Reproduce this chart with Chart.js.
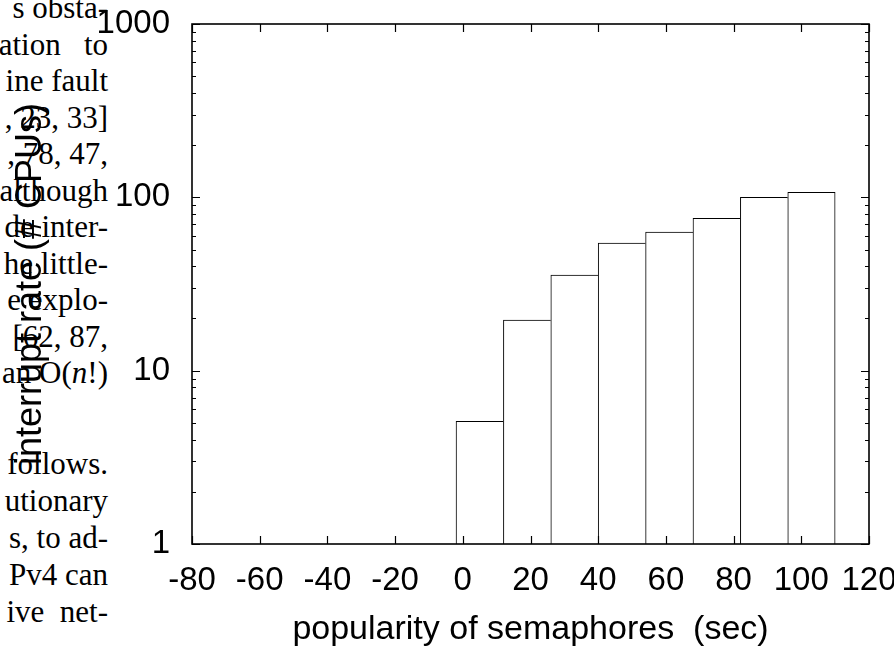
<!DOCTYPE html>
<html>
<head>
<meta charset="utf-8">
<script src="https://cdn.jsdelivr.net/npm/chart.js@4/dist/chart.umd.min.js"></script>
<style>
html, body { margin: 0; padding: 0; background: #fff; overflow: hidden; }
#wrap { position: relative; width: 894px; height: 651px; overflow: hidden; }
#bg { position: absolute; left: 0; top: 0; width: 894px; height: 651px;
      font-family: "Liberation Serif", "DejaVu Serif", serif; font-size: 31px; color: #000; }
#bg div { position: absolute; right: 786px; white-space: nowrap; line-height: 37px; }
#c { position: absolute; left: 0; top: 0; }
</style>
</head>
<body>
<div id="wrap">
  <div id="bg"></div>
  <canvas id="c" width="894" height="651"></canvas>
</div>
<script>
// ---- data ----
const binCenters = [5, 19, 33, 47, 61, 75, 89, 103];          // popularity of semaphores (sec)
const rates      = [5.1, 19.6, 35.6, 54.5, 63, 75.6, 100, 107]; // interrupt rate (# CPUs)
const xTickValues = [-80, -60, -40, -20, 0, 20, 40, 60, 80, 100, 120];
const yTickValues = [1, 10, 100, 1000];
const xTitle = 'popularity of semaphores  (sec)';
const yTitle = 'interrupt rate (# CPUs)';
// fragment of the paper text visible behind the figure (left margin)
const paperLinesTop = ['s obsta-', 'ation&nbsp;&nbsp; to', 'ine fault', ', 23, 33]', ', 78, 47,', 'although',
  'de inter-', 'he little-', 'e explo-', '[62, 87,', 'an O(<i>n</i>!)'];
const paperLinesBottom = ['follows.', 'utionary', 's, to ad-', 'Pv4 can', 'ive&nbsp; net-'];

// ---- background paper text ----
const bg = document.getElementById('bg');
function addLine(html, baseline) {
  const d = document.createElement('div');
  d.innerHTML = html;
  d.style.top = (baseline - 29) + 'px';
  bg.appendChild(d);
}
paperLinesTop.forEach((t, k) => addLine(t, 18 + 36.5 * k));
paperLinesBottom.forEach((t, k) => addLine(t, 474 + 37 * k));

// ---- chart ----
const FONT = '"Liberation Sans", Arial, Helvetica, sans-serif';

const ticksPlugin = {
  id: 'gnuplotFrame',
  afterDatasetsDraw(chart) {
    const {ctx, chartArea: a} = chart;
    const xs = chart.scales.x, ys = chart.scales.y;
    ctx.save();
    ctx.strokeStyle = '#000';
    ctx.lineWidth = 1.2;
    const major = 8, minor = 4;
    ctx.beginPath();
    xTickValues.forEach(v => {
      const px = Math.round(xs.getPixelForValue(v)) + 0.5;
      ctx.moveTo(px, a.bottom); ctx.lineTo(px, a.bottom - major);
      ctx.moveTo(px, a.top); ctx.lineTo(px, a.top + major);
    });
    yTickValues.forEach((v, i) => {
      const py = Math.round(ys.getPixelForValue(v)) + 0.5;
      ctx.moveTo(a.left, py); ctx.lineTo(a.left + major, py);
      ctx.moveTo(a.right, py); ctx.lineTo(a.right - major, py);
      if (i < yTickValues.length - 1) {
        for (let m = 2; m <= 9; m++) {
          const q = Math.round(ys.getPixelForValue(v * m)) + 0.5;
          ctx.moveTo(a.left, q); ctx.lineTo(a.left + minor, q);
          ctx.moveTo(a.right, q); ctx.lineTo(a.right - minor, q);
        }
      }
    });
    ctx.stroke();
    ctx.lineWidth = 1.6;
    ctx.strokeRect(a.left, a.top, a.right - a.left, a.bottom - a.top);
    ctx.restore();
  }
};

new Chart(document.getElementById('c'), {
  type: 'bar',
  data: {
    datasets: [{
      data: binCenters.map((x, i) => ({x: x, y: rates[i]})),
      backgroundColor: '#ffffff',
      borderColor: '#000000',
      borderWidth: (c) => ({top: 1, left: 1, bottom: 0, right: c.dataIndex === rates.length - 1 ? 1 : 0}),
      borderSkipped: false,
      barPercentage: 1.0,
      categoryPercentage: 1.0
    }]
  },
  options: {
    responsive: false,
    animation: false,
    devicePixelRatio: 1,
    layout: { padding: { left: 0, right: 25, top: 24, bottom: 0 } },
    plugins: { legend: { display: false }, tooltip: { enabled: false } },
    scales: {
      x: {
        type: 'linear',
        offset: false,
        min: -80, max: 120,
        grid: { display: false, drawTicks: false },
        border: { display: false },
        afterBuildTicks: (s) => { s.ticks = xTickValues.map(v => ({value: v})); },
        afterFit: (s) => { s.height = 107; s.paddingLeft = 0; s.paddingRight = 0; },
        ticks: {
          autoSkip: false, maxRotation: 0, minRotation: 0, padding: 17,
          color: '#000', font: { family: FONT, size: 33 },
          callback: (v) => String(v)
        },
        title: {
          display: true, text: xTitle, color: '#000',
          font: { family: FONT, size: 34 }, padding: { top: 0, bottom: 1 }
        }
      },
      y: {
        type: 'logarithmic',
        min: 1, max: 1000,
        grid: { display: false, drawTicks: false },
        border: { display: false },
        afterBuildTicks: (s) => { s.ticks = yTickValues.map(v => ({value: v, major: true})); },
        afterFit: (s) => { s.width = 192; s.paddingTop = 0; s.paddingBottom = 0; },
        ticks: {
          autoSkip: false, padding: 22,
          color: '#000', font: { family: FONT, size: 33 },
          callback: (v) => String(v)
        },
        title: {
          display: true, text: yTitle, color: '#000',
          font: { family: FONT, size: 36 }, padding: { top: 9, bottom: 0 }
        }
      }
    }
  },
  plugins: [ticksPlugin]
});
</script>
</body>
</html>
